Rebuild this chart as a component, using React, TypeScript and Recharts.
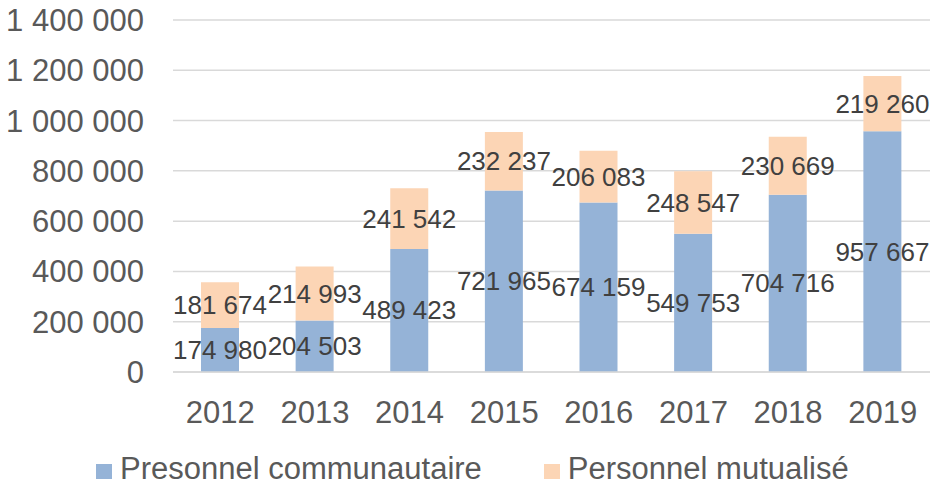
import React from "react"
import { BarChart, Bar, XAxis, YAxis, CartesianGrid, Legend, LabelList } from "recharts"

const years = ["2012", "2013", "2014", "2015", "2016", "2017", "2018", "2019"]
const communautaire = [174980, 204503, 489423, 721965, 674159, 549753, 704716, 957667]
const mutualise = [181674, 214993, 241542, 232237, 206083, 248547, 230669, 219260]
const yTicks = [0, 200000, 400000, 600000, 800000, 1000000, 1200000, 1400000]

const seriesOrder = ["communautaire", "mutualise"]
const seriesNames = {
  communautaire: "Presonnel communautaire",
  mutualise: "Personnel mutualisé",
}

const data = years.map((year, i) => ({
  year,
  communautaire: communautaire[i],
  mutualise: mutualise[i],
}))

const fmt = (v: number | string) =>
  String(v).replace(/\B(?=(\d{3})+(?!\d))/g, " ")

const FONT = '"Liberation Sans", Arial, sans-serif'

// label centred in the segment, never wrapped
function CenterLabel(props: any) {
  const { x, y, width, height, value } = props
  return (
    <text
      x={Number(x) + Number(width) / 2}
      y={Number(y) + Number(height) / 2}
      textAnchor="middle"
      dominantBaseline="central"
      fill="#404040"
      fontSize={26}
      fontFamily={FONT}
    >
      {fmt(value)}
    </text>
  )
}

function LegendContent({ payload }: any) {
  const items = [...(payload || [])].sort(
    (a: any, b: any) => seriesOrder.indexOf(a.dataKey) - seriesOrder.indexOf(b.dataKey)
  )
  return (
    <div style={{ display: "flex", alignItems: "center", fontFamily: FONT }}>
      {items.map((p: any, i: number) => (
        <div
          key={p.value}
          style={{ display: "flex", alignItems: "center", marginLeft: i === 0 ? 0 : 62 }}
        >
          <span style={{ width: 16, height: 15, background: p.color, marginRight: 8, marginTop: 4 }} />
          <span style={{ fontSize: 31, color: "#595959", lineHeight: "34px" }}>{p.value}</span>
        </div>
      ))}
    </div>
  )
}

export default function App() {
  return (
    <div style={{ position: "absolute", left: 0, top: 0, background: "#fff" }}>
      <BarChart
        width={935}
        height={491}
        data={data}
        margin={{ top: 20, right: 5, left: 0, bottom: 59 }}
        style={{ fontFamily: FONT }}
      >
        <CartesianGrid vertical={false} stroke="#D9D9D9" strokeWidth={1.5} />
        <XAxis
          dataKey="year"
          height={60}
          tickLine={false}
          axisLine={{ stroke: "#D9D9D9", strokeWidth: 1.5 }}
          tickMargin={23}
          tick={{ fill: "#595959", fontSize: 31 }}
        />
        <YAxis
          width={173}
          domain={[0, 1400000]}
          ticks={yTicks}
          interval={0}
          axisLine={false}
          tickLine={false}
          tickMargin={23}
          tickFormatter={fmt}
          tick={{ fill: "#595959", fontSize: 31 }}
        />
        <Legend
          layout="horizontal"
          verticalAlign="middle"
          align="center"
          wrapperStyle={{ top: 452, left: 96, width: "auto" }}
          content={<LegendContent />}
        />
        <Bar
          dataKey="communautaire"
          name={seriesNames.communautaire}
          stackId="a"
          fill="#95B3D7"
          barSize={38}
          isAnimationActive={false}
        >
          <LabelList dataKey="communautaire" content={<CenterLabel />} />
        </Bar>
        <Bar
          dataKey="mutualise"
          name={seriesNames.mutualise}
          stackId="a"
          fill="#FCD5B5"
          barSize={38}
          isAnimationActive={false}
        >
          <LabelList dataKey="mutualise" content={<CenterLabel />} />
        </Bar>
      </BarChart>
    </div>
  )
}
